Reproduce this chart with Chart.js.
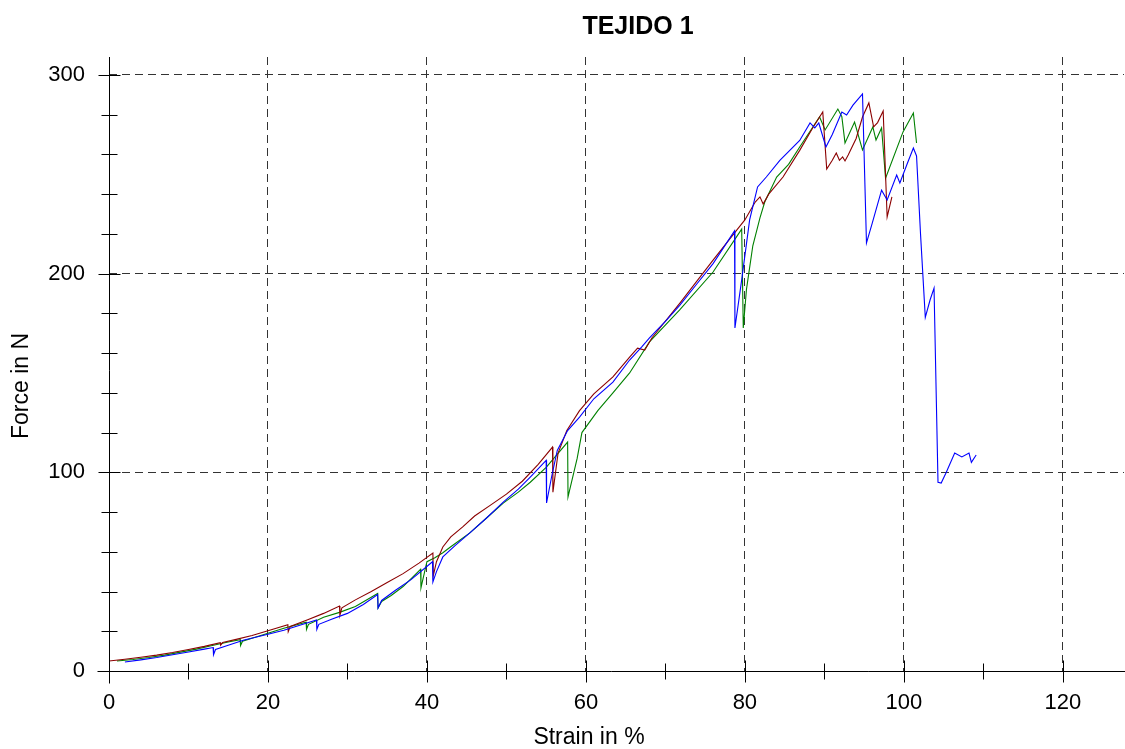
<!DOCTYPE html>
<html lang="es">
<head>
<meta charset="UTF-8">
<title>TEJIDO 1</title>
<script src="https://cdn.jsdelivr.net/npm/chart.js"></script>
<style>
  html, body { margin: 0; padding: 0; background: #fff; }
  .wrap { position: relative; width: 1125px; height: 749px; }
</style>
</head>
<body>
<div class="wrap"><canvas id="grafico"></canvas></div>
<script>
// textos
const titulo = 'TEJIDO 1';
const tituloX = 'Strain in %';
const tituloY = 'Force in N';

// marcas con etiqueta
const xEtiquetas = [0, 20, 40, 60, 80, 100, 120];
const yEtiquetas = [0, 100, 200, 300];

// ensayo rojo
const strainRojo = [0, 2, 4, 6, 8, 10, 12, 14, 14.05, 14.3, 16, 18, 20, 22.5, 22.55, 22.8, 25, 27, 29, 29.05, 29.3, 31, 33, 35, 37, 39, 40.75, 40.8, 41.2, 42, 43, 44.5, 46, 48, 50, 52, 54, 55.8, 55.85, 56.5, 57.6, 59.2, 61, 63.4, 65.5, 66.5, 67.4, 68.3, 71.8, 76, 79, 80, 81.3, 81.9, 82.3, 83, 84.8, 86.9, 88.6, 89.8, 90.3, 91, 91.5, 91.9, 92.3, 92.6, 93, 94, 94.8, 95.6, 96.2, 96.7, 97.4, 97.9, 98.5];
const forceRojo  = [5, 5.9, 6.9, 8, 9.3, 10.8, 12.4, 14.2, 13, 14.3, 15.9, 17.9, 20.3, 23.3, 19.8, 22.4, 25.8, 29, 32.7, 28, 31.8, 35.8, 40, 44.5, 49, 54.3, 59.4, 48, 55, 62.4, 67.5, 72.5, 78, 83.5, 89, 95.5, 104, 112.7, 90, 109.7, 121, 131, 139.5, 148, 158, 162.5, 161.5, 167.6, 185, 206.8, 222, 227, 236, 238.6, 235, 240, 248.6, 262, 273.8, 281.3, 252.6, 257, 260.7, 257, 258.7, 256.7, 259.7, 268, 278.8, 285.9, 273.8, 276, 281.8, 228.5, 238.6];

// ensayo verde
const strainVerde = [1, 3, 5, 7, 9, 11, 13, 15, 16.5, 16.55, 16.8, 18, 20, 22, 24.8, 24.85, 25.1, 27, 29, 31, 33.8, 33.85, 34.3, 35.5, 37, 39.2, 39.25, 40, 41, 42, 43, 45.4, 47.5, 49.6, 51.5, 53, 55, 57.7, 57.75, 58.9, 59.5, 61.5, 63.4, 65.5, 68, 71.8, 76, 79.6, 79.8, 80.2, 80.6, 81, 81.9, 82.5, 84, 85.5, 86.9, 89.4, 90.1, 91.7, 92.2, 92.6, 93.8, 94.8, 96.1, 96.5, 97.2, 97.7, 99.9, 101.2, 101.6];
const forceVerde  = [5, 5.8, 6.8, 8, 9.5, 11, 12.8, 14.6, 15.8, 12.8, 15, 16.5, 19, 21.5, 24.5, 21, 23.5, 27, 29.5, 32.5, 39, 31.7, 35, 38, 42.5, 51.2, 41.8, 55, 57, 59.5, 62.5, 69.5, 77, 84.5, 90, 95, 102.5, 115.2, 87.6, 107, 120, 131, 140, 150, 165.6, 181.7, 200.8, 222.4, 172.6, 192, 203, 214, 228, 236, 248.6, 255, 263.7, 278.8, 272.3, 282.8, 279, 265.7, 276.3, 262.2, 273.8, 267.2, 273.3, 248, 271.3, 280.8, 265.7];

// ensayo azul
const strainAzul = [2, 4, 6, 8, 10, 12, 13.1, 13.15, 13.4, 15, 17, 20, 22, 24, 26.1, 26.15, 26.4, 28, 30, 32, 33.8, 33.85, 34.3, 36, 38, 40.7, 40.75, 41.2, 42, 43.5, 45.4, 47.5, 49.6, 51.5, 53, 55, 55.05, 55.7, 56.4, 57.7, 59.2, 61, 63.4, 65.5, 67, 68, 70, 71.8, 74, 76, 78.7, 78.75, 79.6, 80.6, 81.6, 82.7, 84.4, 86.9, 88.2, 88.8, 89.3, 90.2, 91, 92.2, 92.8, 93.6, 94.7, 94.8, 95.3, 96, 97.2, 97.9, 99.1, 99.5, 100.4, 101.2, 101.6, 102.1, 102.7, 103.3, 103.8, 104.3, 104.7, 105.3, 106.4, 107.3, 108.2, 108.5, 109.1];
const forceAzul  = [4.5, 5.6, 6.8, 8.2, 9.6, 11, 11.8, 8.2, 10.8, 13, 15.6, 18.5, 20.5, 23, 25.7, 21, 23.5, 26, 29, 33.5, 38.5, 31.7, 35.5, 40.5, 46, 55, 44.8, 50, 57.4, 63, 69.5, 77, 85, 91.5, 97.6, 106, 84.6, 98, 111, 121, 127.8, 137, 145.4, 156.5, 163, 167.6, 176, 184, 195, 205, 221.5, 172.6, 196.8, 227, 243.6, 248.6, 257, 267, 275.8, 273.3, 275.8, 263.7, 270, 281.3, 279.8, 284.8, 289.9, 290.4, 215.4, 225, 242, 237, 249.6, 245.6, 255, 263.2, 259.2, 220, 178, 186.7, 192.7, 95, 94.6, 99.6, 109.7, 107.7, 109.7, 105, 108.7];

function puntos(xs, ys) {
    return xs.map((v, i) => ({ x: v, y: ys[i] }));
}

const fuente = "'Liberation Sans', Arial, Helvetica, sans-serif";

// ejes, marcas cruzadas y textos
const decoracion = {
    id: 'decoracion',
    afterDraw(chart) {
        const { ctx, chartArea: a, scales: { x, y } } = chart;
        const x0 = Math.round(x.getPixelForValue(0)) + 0.5;
        const y0 = Math.round(y.getPixelForValue(0)) + 0.5;
        ctx.save();
        ctx.strokeStyle = '#000';
        ctx.lineWidth = 1;
        ctx.beginPath();
        ctx.moveTo(x0 - 12, y0); ctx.lineTo(a.right + 2, y0);
        ctx.moveTo(x0, a.top); ctx.lineTo(x0, y0 + 12);
        for (let v = 0; v <= x.max; v += 10) {
            const px = Math.round(x.getPixelForValue(v)) + 0.5;
            const l = v % 20 === 0 ? 11 : 8;
            ctx.moveTo(px, y0 - l); ctx.lineTo(px, y0 + l);
        }
        for (let v = 0; v <= y.max; v += 20) {
            const py = Math.round(y.getPixelForValue(v)) + 0.5;
            const l = v % 100 === 0 ? 11 : 8;
            ctx.moveTo(x0 - l, py); ctx.lineTo(x0 + l, py);
        }
        ctx.stroke();

        ctx.fillStyle = '#000';
        ctx.textAlign = 'center';
        ctx.textBaseline = 'middle';
        ctx.font = 'bold 25px ' + fuente;
        ctx.fillText(titulo, 638, 27);
        ctx.font = '23px ' + fuente;
        ctx.fillText(tituloX, 589, 738);
        ctx.translate(22, 386);
        ctx.rotate(-Math.PI / 2);
        ctx.fillText(tituloY, 0, 0);
        ctx.restore();
    }
};

const rejilla = (paso) => ({
    color: c => (c.tick && c.tick.value !== 0 && c.tick.value % paso === 0) ? '#333' : 'rgba(0,0,0,0)',
    lineWidth: 1,
    drawTicks: false
});

new Chart(document.getElementById('grafico'), {
    type: 'scatter',
    data: {
        datasets: [
            { label: 'azul', data: puntos(strainAzul, forceAzul), borderColor: '#0000ff' },
            { label: 'rojo', data: puntos(strainRojo, forceRojo), borderColor: '#8b0000' },
            { label: 'verde', data: puntos(strainVerde, forceVerde), borderColor: '#008000' }
        ]
    },
    options: {
        responsive: true,
        maintainAspectRatio: false,
        animation: false,
        showLine: true,
        datasets: {
            scatter: { showLine: true, pointRadius: 0, borderWidth: 1.1, tension: 0 }
        },
        layout: { padding: { top: 57, right: 1, left: 0, bottom: 0 } },
        plugins: {
            legend: { display: false },
            tooltip: { enabled: false }
        },
        scales: {
            x: {
                type: 'linear',
                min: 0,
                max: 127.7,
                afterFit: s => { s.height = 78; },
                grid: rejilla(20),
                border: { display: false, dash: [8, 5] },
                ticks: {
                    stepSize: 10,
                    includeBounds: false,
                    maxRotation: 0,
                    autoSkip: false,
                    padding: 19,
                    color: '#000',
                    font: { family: fuente, size: 22 },
                    callback: v => xEtiquetas.includes(v) ? String(v) : ''
                }
            },
            y: {
                type: 'linear',
                min: 0,
                max: 309,
                afterFit: s => { s.width = 109; },
                grid: rejilla(100),
                border: { display: false, dash: [8, 5] },
                ticks: {
                    stepSize: 20,
                    includeBounds: false,
                    autoSkip: false,
                    padding: 24,
                    color: '#000',
                    font: { family: fuente, size: 22 },
                    callback: v => yEtiquetas.includes(v) ? String(v) : ''
                }
            }
        }
    },
    plugins: [decoracion]
});
</script>
</body>
</html>
